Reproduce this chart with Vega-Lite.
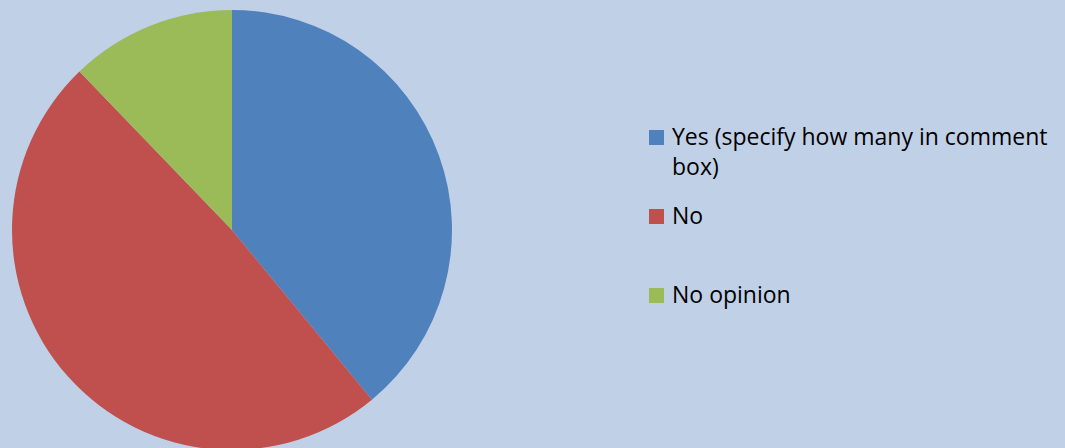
{
  "$schema": "https://vega.github.io/schema/vega-lite/v6.json",
  "width": 440,
  "height": 440,
  "autosize": "none",
  "padding": {"left": 12, "top": 10, "right": 613, "bottom": 0},
  "background": "#c0d1e7",
  "data": {
    "values": [
      {"answer": "Yes (specify how many in comment box)", "count": 16, "order": 1},
      {"answer": "No", "count": 20, "order": 2},
      {"answer": "No opinion", "count": 5, "order": 3}
    ]
  },
  "mark": {"type": "arc", "stroke": null},
  "encoding": {
    "theta": {"field": "count", "type": "quantitative", "stack": true},
    "order": {"field": "order", "type": "quantitative"},
    "color": {
      "field": "answer",
      "type": "nominal",
      "scale": {
        "domain": ["Yes (specify how many in comment box)", "No", "No opinion"],
        "range": ["#4f81bd", "#c0504d", "#9bbb59"]
      },
      "legend": {
        "title": null,
        "orient": "none",
        "legendX": 633,
        "legendY": 116,
        "symbolType": "square",
        "symbolSize": 225,
        "symbolStrokeWidth": 0,
        "labelFont": "Open Sans",
        "labelFontSize": 23,
        "labelColor": "#000000",
        "labelLimit": 500,
        "labelOffset": 4,
        "rowPadding": 25,
        "labelExpr": "datum.label == 'Yes (specify how many in comment box)' ? ['Yes (specify how many in comment', 'box)'] : datum.label == 'No' ? ['No', ''] : datum.label"
      }
    }
  },
  "config": {"view": {"stroke": null}, "style": {"guide-label": {"lineHeight": 30}}}
}
